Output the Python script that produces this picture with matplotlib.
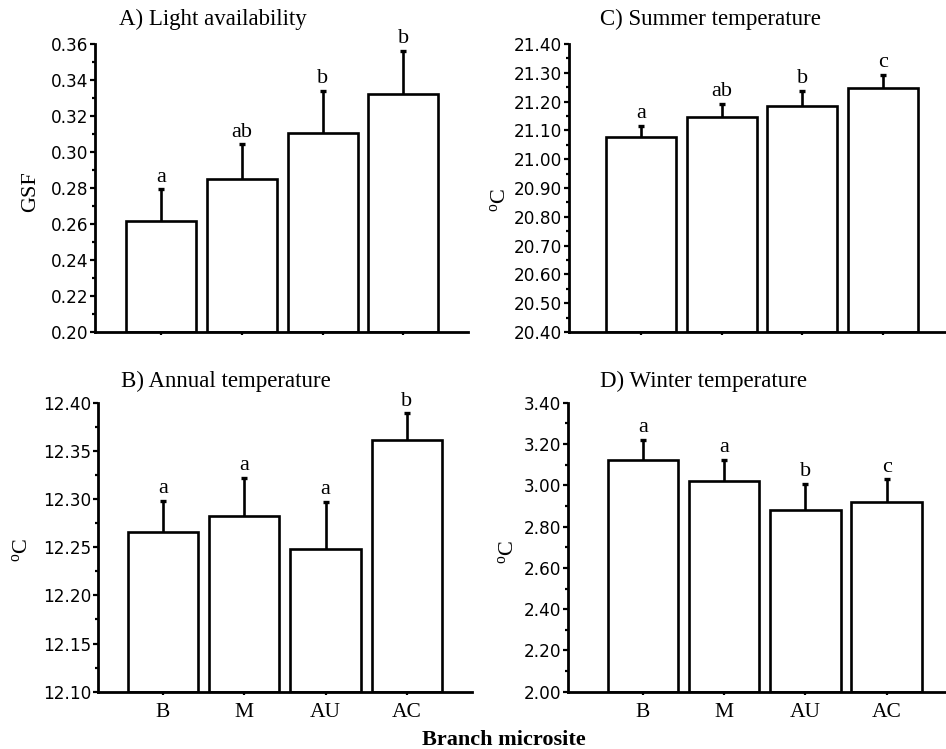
import matplotlib
matplotlib.use("Agg")
import matplotlib.pyplot as plt
from matplotlib.ticker import MultipleLocator, FormatStrFormatter
import numpy as np

plt.rcParams['mathtext.fontset'] = 'custom'
plt.rcParams['mathtext.rm'] = 'Liberation Serif'
plt.rcParams['mathtext.it'] = 'Liberation Serif:italic'

categories = ["B", "M", "AU", "AC"]

light_vals = [0.2617, 0.2848, 0.3107, 0.3324]
light_err = [0.0176, 0.0194, 0.0232, 0.0237]
light_letters = ["a", "ab", "b", "b"]

summer_vals = [21.077, 21.145, 21.186, 21.248]
summer_err = [0.038, 0.048, 0.050, 0.044]
summer_letters = ["a", "ab", "b", "c"]

annual_vals = [12.266, 12.282, 12.248, 12.361]
annual_err = [0.032, 0.040, 0.049, 0.028]
annual_letters = ["a", "a", "a", "b"]

winter_vals = [3.121, 3.019, 2.882, 2.917]
winter_err = [0.100, 0.105, 0.124, 0.112]
winter_letters = ["a", "a", "b", "c"]

SERIF = "Liberation Serif"
SANS = "DejaVu Sans"

fig = plt.figure(figsize=(9.46, 7.49), dpi=100)

panels = [
    dict(rect=[0.1004, 0.5567, 0.3943, 0.3845], vals=light_vals, err=light_err, letters=light_letters,
         ylim=(0.20, 0.36), major=0.02, fmt='%.2f', xlim=(0.18, 4.80), xlabels=False,
         title="A) Light availability", tpos=(0.2252, 0.9666), ylabel="GSF", ypos=(0.0328, 0.7437)),
    dict(rect=[0.6015, 0.5567, 0.3985, 0.3845], vals=summer_vals, err=summer_err, letters=summer_letters,
         ylim=(20.40, 21.40), major=0.10, fmt='%.2f', xlim=(0.11, 4.78), xlabels=False,
         title="C) Summer temperature", tpos=(0.7505, 0.9666), ylabel=r"$^{\rm o}$C", ypos=(0.5290, 0.733)),
    dict(rect=[0.1036, 0.0765, 0.3953, 0.3858], vals=annual_vals, err=annual_err, letters=annual_letters,
         ylim=(12.10, 12.40), major=0.05, fmt='%.2f', xlim=(0.20, 4.80), xlabels=True,
         title="B) Annual temperature", tpos=(0.2385, 0.4837), ylabel=r"$^{\rm o}$C", ypos=(0.0230, 0.2657)),
    dict(rect=[0.6004, 0.0765, 0.3996, 0.3858], vals=winter_vals, err=winter_err, letters=winter_letters,
         ylim=(2.00, 3.40), major=0.20, fmt='%.2f', xlim=(0.08, 4.73), xlabels=True,
         title="D) Winter temperature", tpos=(0.7439, 0.4837), ylabel=r"$^{\rm o}$C", ypos=(0.5370, 0.263)),
]

x = np.arange(1, len(categories) + 1)

for p in panels:
    ax = fig.add_axes(p["rect"])
    vals = np.array(p["vals"])
    err = np.array(p["err"])
    ax.bar(x, vals - p["ylim"][0], bottom=p["ylim"][0], width=0.865, color='white',
           edgecolor='black', linewidth=1.9, zorder=2)
    ax.vlines(x, vals, vals + err, colors='black', linewidth=1.9, zorder=3)
    ax.plot(x, vals + err, linestyle='none', marker='_', markersize=5, markeredgewidth=2.4,
            color='black', zorder=3)
    for xi, v, e, lab in zip(x, vals, err, p["letters"]):
        ax.annotate(lab, (xi, v + e), xytext=(0, 2), textcoords='offset points',
                    ha='center', va='bottom', fontsize=16, family=SERIF)
    ax.set_xlim(*p["xlim"])
    ax.set_ylim(*p["ylim"])
    ax.yaxis.set_major_locator(MultipleLocator(p["major"]))
    ax.yaxis.set_minor_locator(MultipleLocator(p["major"] / 2))
    ax.yaxis.set_major_formatter(FormatStrFormatter(p["fmt"]))
    ax.set_xticks(x)
    if p["xlabels"]:
        ax.set_xticklabels(categories, fontsize=15.5, family=SERIF)
    else:
        ax.set_xticklabels([])
    for s in ['top', 'right']:
        ax.spines[s].set_visible(False)
    for s in ['left', 'bottom']:
        ax.spines[s].set_linewidth(2.0)
    ax.tick_params(axis='y', which='major', direction='out', length=3.5, width=1.6, pad=1.5,
                   labelsize=12.2)
    ax.tick_params(axis='y', which='minor', direction='out', length=2, width=1.6)
    ax.tick_params(axis='x', which='major', direction='out', length=2, width=1.6, pad=6)
    for t in ax.get_yticklabels():
        t.set_family(SANS)
    ax.patch.set_alpha(0)
    fig.text(p["tpos"][0], p["tpos"][1], p["title"], ha='center', va='baseline',
             fontsize=16.5, family=SERIF)
    fig.text(p["ypos"][0], p["ypos"][1], p["ylabel"], ha='center', va='center',
             rotation=90, fontsize=16, family=SERIF)

fig.text(0.5328, 0.006, "Branch microsite", ha='center', va='baseline', fontsize=16,
         family=SERIF, fontweight='bold')

fig.savefig("out.png", dpi=100)
